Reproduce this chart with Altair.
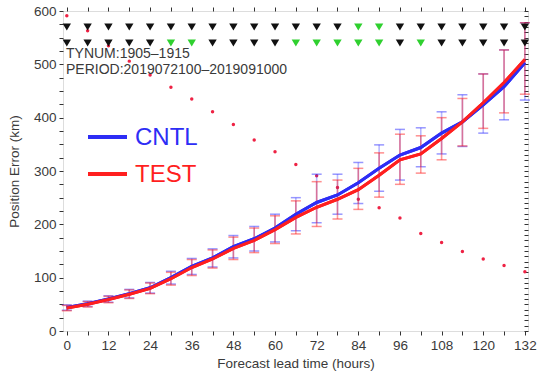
import altair as alt
import pandas as pd

hours = list(range(0, 133, 6))
cntl_mean = [44, 51, 60, 70, 81, 100, 121, 137, 158, 173, 193, 219, 241, 255, 278, 305, 330, 344, 371, 392, 424, 458, 503]
test_mean = [43, 50, 59, 69, 80, 98, 119, 135, 155, 170, 190, 213, 232, 247, 265, 292, 321, 332, 361, 392, 428, 466, 509]
cntl_lo = [39, 46, 54, 62, 71, 88, 106, 120, 137, 150, 167, 188, 203, 219, 239, 262, 283, 308, 332, 346, 371, 396, 433]
cntl_hi = [49, 56, 66, 78, 91, 112, 136, 154, 179, 196, 219, 250, 294, 294, 316, 349, 378, 381, 411, 443, 482, 527, 578]
test_lo = [38, 45, 53, 61, 70, 86, 104, 118, 134, 147, 164, 182, 196, 210, 228, 251, 275, 296, 321, 347, 380, 409, 444]
test_hi = [48, 55, 65, 77, 90, 110, 134, 152, 176, 193, 216, 244, 280, 283, 305, 334, 369, 366, 400, 436, 482, 527, 578]
sample_count = [591, 563, 535, 506, 480, 457, 435, 411, 387, 358, 336, 312, 291, 269, 247, 231, 212, 183, 166, 149, 135, 123, 111]
sig_top = ["k"] * 14 + ["g", "g"] + ["k"] * 7
sig_bottom = ["k"] * 5 + ["g", "g"] + ["k"] * 4 + ["g", "g", "g", "g", "g", "k", "g"] + ["k"] * 5
sig_levels = [570, 540]
models = ["CNTL", "TEST"]
info_text = "TYNUM:1905\u20131915\nPERIOD:2019072100\u20132019091000"

FONT = "Liberation Sans"
BLUE = "#2d2df5"
RED = "#ff1f1f"

rows = []
for i, h in enumerate(hours):
    rows.append(dict(hour=h, model="CNTL", mean=cntl_mean[i], lo=cntl_lo[i], hi=cntl_hi[i]))
for i, h in enumerate(hours):
    rows.append(dict(hour=h, model="TEST", mean=test_mean[i], lo=test_lo[i], hi=test_hi[i]))
df = pd.DataFrame(rows)

dots = pd.DataFrame({"hour": hours, "n": sample_count})
tri = pd.DataFrame(
    [dict(hour=h, level=sig_levels[0], flag=sig_top[i]) for i, h in enumerate(hours)]
    + [dict(hour=h, level=sig_levels[1], flag=sig_bottom[i]) for i, h in enumerate(hours)]
)
info = pd.DataFrame({"t": [info_text]})

xs = alt.Scale(domain=[-1.1, 132.9], nice=False, zero=False)
ys = alt.Scale(domain=[0, 600], nice=False)
cs = alt.Scale(domain=models, range=[BLUE, RED])

NOX = alt.X("hour:Q", scale=xs, axis=None)
NOY = alt.Y("mean:Q", scale=ys, axis=None)


def errbars(model, color, rule_op, cap_op):
    d = df[df.model == model]
    base = alt.Chart(d)
    r = base.mark_rule(color=color, opacity=rule_op, strokeWidth=1.6).encode(
        x=NOX, y=alt.Y("lo:Q", scale=ys, axis=None), y2="hi:Q")
    c1 = base.mark_tick(color=color, opacity=cap_op, size=10, thickness=1.5, orient="horizontal").encode(
        x=NOX, y=alt.Y("lo:Q", scale=ys, axis=None))
    c2 = base.mark_tick(color=color, opacity=cap_op, size=10, thickness=1.5, orient="horizontal").encode(
        x=NOX, y=alt.Y("hi:Q", scale=ys, axis=None))
    return r + c1 + c2


AX = dict(labelFont=FONT, titleFont=FONT, labelFontSize=13.5, titleFontSize=13.5, titleFontWeight="normal",
          labelColor="#3a3a3a", titleColor="#3a3a3a", tickColor="#333333", domain=False, grid=False)

lines_axes = alt.Chart(df).mark_line(strokeWidth=3).encode(
    x=alt.X("hour:Q", scale=xs, title="Forecast lead time (hours)",
            axis=alt.Axis(values=hours, labelExpr="datum.value % 12 == 0 ? datum.label : ''",
                          tickSize=4, labelPadding=3, titlePadding=5, **AX)),
    y=alt.Y("mean:Q", scale=ys, title="Position Error (km)",
            axis=alt.Axis(values=list(range(0, 601, 25)),
                          labelExpr="datum.value % 100 == 0 ? datum.label : ''",
                          tickSize=4, labelPadding=3, titlePadding=12, **AX)),
    color=alt.Color("model:N", scale=cs, legend=None),
    order=alt.Order("hour:Q"),
)

lines = alt.Chart(df).mark_line(strokeWidth=3).encode(
    x=NOX, y=NOY, color=alt.Color("model:N", scale=cs, legend=None), order=alt.Order("hour:Q"))

dot_layer = alt.Chart(dots).mark_circle(color="#ee2244", size=12, opacity=1).encode(
    x=alt.X("hour:Q", scale=xs, title=None,
            axis=alt.Axis(orient="top", values=hours, labels=False, tickSize=4, **AX)),
    y=alt.Y("n:Q", scale=ys, title=None,
            axis=alt.Axis(orient="right", values=list(range(0, 601, 10)), labels=False, tickSize=4,
                          offset=-4, **AX)),
)

tri_layer = alt.Chart(tri).mark_point(shape="triangle-down", filled=True, size=70, opacity=1).encode(
    x=NOX,
    y=alt.Y("level:Q", scale=ys, axis=None),
    fill=alt.Fill("flag:N", scale=alt.Scale(domain=["k", "g"], range=["#111111", "#2fd02f"]), legend=None),
)

info_layer = alt.Chart(info).mark_text(align="left", baseline="alphabetic", fontSize=14, font=FONT,
                                        color="#3a3a3a", lineBreak="\n", lineHeight=16).encode(
    x=alt.value(3), y=alt.value(47), text="t:N")

legend_layers = []
for name, ypix in zip(models, [126, 163]):
    ld = pd.DataFrame({"model": [name]})
    legend_layers.append(
        alt.Chart(ld).mark_rule(strokeWidth=4).encode(
            x=alt.value(25), x2=alt.value(64), y=alt.value(ypix),
            color=alt.Color("model:N", scale=cs, legend=None)))
    legend_layers.append(
        alt.Chart(ld).mark_text(align="left", baseline="middle", fontSize=24, font=FONT).encode(
            x=alt.value(72), y=alt.value(ypix + 1), text="model:N",
            color=alt.Color("model:N", scale=cs, legend=None)))

chart = alt.layer(
    lines_axes,
    dot_layer,
    errbars("CNTL", "#3030ff", 0.35, 0.5),
    errbars("TEST", "#ff2020", 0.45, 0.5),
    lines,
    tri_layer,
    info_layer,
    *legend_layers,
).resolve_axis(x="independent", y="independent").properties(
    width=465, height=320,
    autosize=alt.AutoSizeParams(type="none"),
    padding={"left": 63, "top": 11, "right": 9, "bottom": 46},
).configure_view(
    stroke="#222222", strokeWidth=2
).configure(background="white")

chart.save("out.html", embed_options={"renderer": "svg", "actions": False})
